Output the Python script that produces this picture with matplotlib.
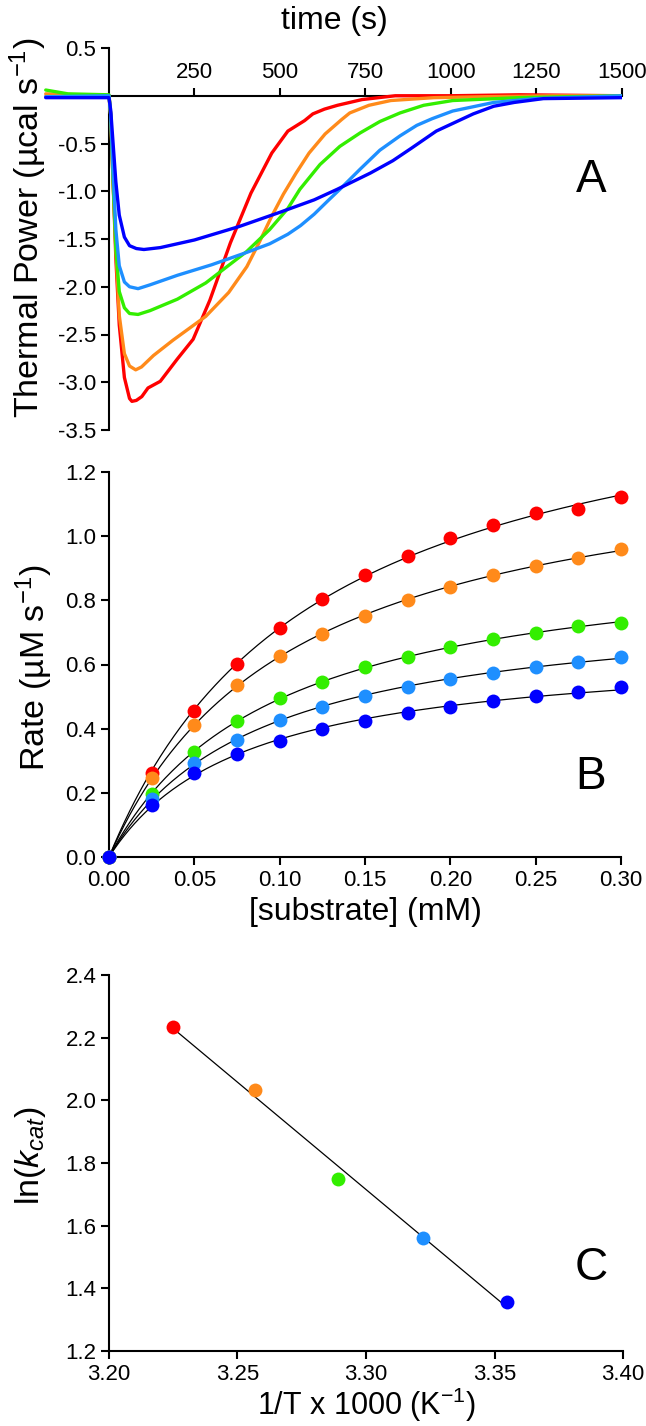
import numpy as np
import matplotlib
matplotlib.use("Agg")
import matplotlib.pyplot as plt

plt.rcParams['font.family'] = ['Liberation Sans', 'DejaVu Sans']
plt.rcParams['mathtext.fontset'] = 'custom'
plt.rcParams['mathtext.rm'] = 'Liberation Sans'
plt.rcParams['mathtext.it'] = 'Liberation Sans:italic'

colors = ['#ff0000', '#ff8a1a', '#33ee00', '#1e8fff', '#0000ff']

# --- panel A: ITC traces (time s, thermal power ucal/s) ---
red_t = [-185, -100, 0, 5, 12, 20, 30, 45, 60, 67, 80, 96, 114, 150, 199, 246, 295, 355, 415, 476,
         523, 572, 596, 630, 668, 740, 837, 1000, 1200, 1500]
red_p = [-0.01, 0.0, 0.0, -0.2, -0.9, -1.7, -2.4, -2.95, -3.17, -3.2, -3.19, -3.15, -3.06, -2.99, -2.76,
         -2.55, -2.14, -1.54, -1.02, -0.6, -0.37, -0.26, -0.19, -0.14, -0.1, -0.04, 0.0, 0.0, 0.01, 0.0]
orange_t = [-185, 0, 5, 12, 20, 30, 45, 60, 78, 95, 130, 187, 283, 350, 403, 440, 476, 510, 547, 585,
            632, 680, 704, 760, 824, 950, 1100, 1300, 1500]
orange_p = [0.02, 0.0, -0.2, -0.9, -1.6, -2.3, -2.7, -2.83, -2.87, -2.84, -2.72, -2.56, -2.31, -2.06,
            -1.79, -1.53, -1.26, -1.03, -0.81, -0.6, -0.4, -0.25, -0.18, -0.1, -0.05, -0.02, -0.01, 0.0, 0.0]
green_t = [-185, -120, 0, 5, 12, 20, 30, 45, 60, 85, 120, 200, 283, 403, 470, 523, 558, 617, 675, 734,
           792, 851, 920, 1005, 1200, 1500]
green_p = [0.06, 0.02, 0.01, -0.2, -0.9, -1.6, -2.05, -2.22, -2.28, -2.29, -2.25, -2.13, -1.96, -1.63,
           -1.4, -1.18, -0.98, -0.72, -0.53, -0.39, -0.27, -0.18, -0.1, -0.05, -0.02, 0.0]
ltblue_t = [-185, 0, 5, 12, 20, 30, 45, 60, 85, 120, 200, 300, 403, 470, 523, 560, 600, 640, 675, 734,
            792, 851, 900, 945, 1005, 1125, 1245, 1500]
ltblue_p = [-0.01, 0.0, -0.2, -0.8, -1.4, -1.78, -1.95, -2.0, -2.02, -1.98, -1.88, -1.77, -1.64, -1.55,
            -1.45, -1.36, -1.24, -1.1, -0.98, -0.77, -0.57, -0.42, -0.31, -0.24, -0.16, -0.07, -0.03, 0.0]
blue_t = [-185, 0, 5, 12, 20, 30, 45, 60, 80, 102, 150, 250, 380, 500, 600, 667, 764, 830, 884, 957,
          1017, 1065, 1125, 1185, 1270, 1500]
blue_p = [-0.02, -0.02, -0.15, -0.5, -0.9, -1.25, -1.48, -1.57, -1.6, -1.61, -1.59, -1.51, -1.37, -1.22,
          -1.09, -0.98, -0.81, -0.68, -0.55, -0.37, -0.27, -0.19, -0.11, -0.07, -0.03, -0.02]

# --- panel B: rate vs substrate ---
substrate = [0, 0.025, 0.05, 0.075, 0.10, 0.125, 0.15, 0.175, 0.20, 0.225, 0.25, 0.275, 0.30]
rate_red = [0, 0.262, 0.455, 0.602, 0.714, 0.804, 0.879, 0.938, 0.994, 1.035, 1.072, 1.085, 1.122]
rate_orange = [0, 0.246, 0.411, 0.536, 0.626, 0.695, 0.751, 0.801, 0.842, 0.879, 0.907, 0.932, 0.96]
rate_green = [0, 0.195, 0.327, 0.424, 0.496, 0.546, 0.592, 0.624, 0.655, 0.678, 0.699, 0.72, 0.729]
rate_ltblue = [0, 0.18, 0.293, 0.365, 0.427, 0.468, 0.502, 0.53, 0.555, 0.574, 0.592, 0.608, 0.624]
rate_blue = [0, 0.162, 0.262, 0.321, 0.362, 0.399, 0.424, 0.449, 0.468, 0.486, 0.502, 0.514, 0.53]

# --- panel C: Arrhenius ---
inv_T = [3.225, 3.257, 3.289, 3.322, 3.355]
ln_kcat = [2.234, 2.033, 1.749, 1.56, 1.357]


def mm_fit(x, y):
    x = np.asarray(x); y = np.asarray(y)
    best = None
    for km in np.linspace(0.005, 1.0, 2000):
        f = x / (km + x)
        vmax = np.sum(f * y) / np.sum(f * f)
        sse = np.sum((vmax * f - y) ** 2)
        if best is None or sse < best[0]:
            best = (sse, vmax, km)
    return best[1], best[2]


W, H = 646, 1426
fig = plt.figure(figsize=(W / 100, H / 100), dpi=100)

def frac(l, t, r, b):
    return [l / W, 1 - b / H, (r - l) / W, (b - t) / H]

tick_kw = dict(labelsize=16, length=6, width=1.5, direction='out', pad=3)
LBL = 23
YLBL = 24.5

# Panel A
axA = fig.add_axes(frac(40.6, 48, 622, 430))
series = [(red_t, red_p), (orange_t, orange_p), (green_t, green_p), (ltblue_t, ltblue_p), (blue_t, blue_p)]
for (t, p), c in zip(series, colors):
    axA.plot(t, p, color=c, lw=2.4, zorder=3, solid_capstyle='round', solid_joinstyle='round')
axA.set_xlim(-200, 1500)
axA.set_ylim(-3.5, 0.5)
axA.spines['left'].set_position(('data', 0))
axA.spines['top'].set_position(('data', 0))
axA.spines['top'].set_bounds(0, 1500)
axA.spines['bottom'].set_visible(False)
axA.spines['right'].set_visible(False)
for s in ['left', 'top']:
    axA.spines[s].set_linewidth(1.5)
axA.xaxis.set_ticks_position('top')
axA.set_xticks([250, 500, 750, 1000, 1250, 1500])
axA.set_yticks([0.5, -0.5, -1.0, -1.5, -2.0, -2.5, -3.0, -3.5])
axA.set_yticklabels(['0.5', '-0.5', '-1.0', '-1.5', '-2.0', '-2.5', '-3.0', '-3.5'])
axA.tick_params(**tick_kw)
axA.set_xlabel('time (s)', fontsize=LBL)
axA.xaxis.set_label_position('top')
axA.xaxis.set_label_coords(0.506, 1.05)
axA.text(1410, -0.88, 'A', fontsize=33, ha='center', va='center')
fig.text(28 / W, 1 - 228 / H, 'Thermal Power (µcal s$^{-1}$)', rotation=90,
         ha='center', va='center', fontsize=YLBL)

# Panel B
axB = fig.add_axes(frac(109, 472, 621, 857))
xs = np.linspace(0, 0.30, 300)
rates = [rate_red, rate_orange, rate_green, rate_ltblue, rate_blue]
for r in rates:
    vmax, km = mm_fit(substrate, r)
    axB.plot(xs, vmax * xs / (km + xs), color='black', lw=0.9, zorder=2)
for r, c in zip(rates, colors):
    axB.plot(substrate, r, 'o', color=c, ms=10, mec='none', zorder=3, clip_on=False)
axB.set_xlim(0, 0.30)
axB.set_ylim(0, 1.2)
axB.set_xticks(np.arange(0, 0.301, 0.05))
axB.set_xticklabels(['0.00', '0.05', '0.10', '0.15', '0.20', '0.25', '0.30'])
axB.set_yticks(np.arange(0, 1.21, 0.2))
axB.set_yticklabels(['0.0', '0.2', '0.4', '0.6', '0.8', '1.0', '1.2'])
axB.spines['top'].set_visible(False)
axB.spines['right'].set_visible(False)
for s in ['left', 'bottom']:
    axB.spines[s].set_linewidth(1.5)
axB.tick_params(**tick_kw)
axB.set_xlabel('[substrate] (mM)', fontsize=LBL, labelpad=5)
axB.text(0.282, 0.25, 'B', fontsize=33, ha='center', va='center')
fig.text(34 / W, 1 - 668 / H, 'Rate (µM s$^{-1}$)', rotation=90,
         ha='center', va='center', fontsize=YLBL)

# Panel C
axC = fig.add_axes(frac(109, 975, 623, 1351))
slope, icpt = np.polyfit(inv_T, ln_kcat, 1)
xl = np.array([inv_T[0], inv_T[-1]])
axC.plot(xl, slope * xl + icpt, color='black', lw=0.9, zorder=2)
for x, y, c in zip(inv_T, ln_kcat, colors):
    axC.plot(x, y, 'o', color=c, ms=10, mec='none', zorder=3)
axC.set_xlim(3.20, 3.40)
axC.set_ylim(1.2, 2.4)
axC.set_xticks([3.20, 3.25, 3.30, 3.35, 3.40])
axC.set_xticklabels(['3.20', '3.25', '3.30', '3.35', '3.40'])
axC.set_yticks([1.2, 1.4, 1.6, 1.8, 2.0, 2.2, 2.4])
axC.set_yticklabels(['1.2', '1.4', '1.6', '1.8', '2.0', '2.2', '2.4'])
axC.spines['top'].set_visible(False)
axC.spines['right'].set_visible(False)
for s in ['left', 'bottom']:
    axC.spines[s].set_linewidth(1.5)
axC.tick_params(**tick_kw)
axC.set_xlabel('1/T x 1000 (K$^{-1}$)', fontsize=22, labelpad=1)
axC.text(3.3876, 1.465, 'C', fontsize=33, ha='center', va='center')
fig.text(30 / W, 1 - 1156 / H, 'ln($k_{cat}$)', rotation=90,
         ha='center', va='center', fontsize=YLBL)

fig.savefig('out.png', dpi=100)
